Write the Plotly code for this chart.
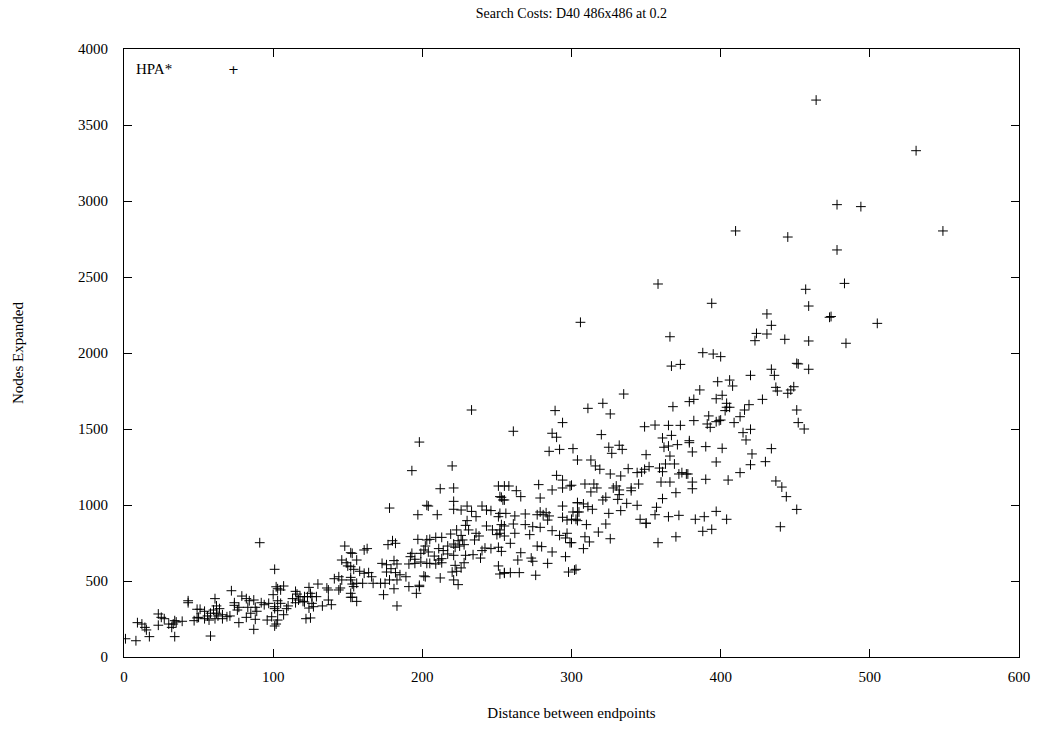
import plotly.graph_objects as go

title_text = "Search Costs: D40 486x486 at 0.2"
x_title = "Distance between endpoints"
y_title = "Nodes Expanded"
series_name = "HPA*"

x_ticks = [0, 100, 200, 300, 400, 500, 600]
y_ticks = [0, 500, 1000, 1500, 2000, 2500, 3000, 3500, 4000]

# (distance, nodes expanded)
distance = [
    # upper outliers
    464, 531, 478, 494, 549, 478, 483, 457, 459, 473, 474, 505, 459, 484, 452, 459,
    410, 445, 358, 394, 306, 366, 388, 395, 400, 367, 373,
    431, 434, 424, 431, 423, 443, 451, 434, 436, 420, 406, 408, 437, 438, 449, 447, 445,
    401, 428, 419, 404, 404, 406, 416, 403, 413, 451, 400, 409, 452, 420, 415, 417, 401,
    434, 421, 420, 430, 413, 405, 437, 441, 444, 451, 404, 440, 456,
    # 350-400
    398, 386, 397, 379, 382, 368, 392, 382, 399, 397, 391, 393, 349, 356, 365, 373,
    361, 367, 379, 379, 362, 365, 371, 390, 381, 350, 366, 369, 363, 397, 352, 359, 361,
    349, 372, 374, 377, 378, 390, 360, 366, 381, 381, 370, 361, 357, 356, 365, 372, 383,
    389, 397, 388, 394, 370, 358, 350,
    # 300-350
    335, 321, 311, 326, 320, 325, 332, 327, 334, 301, 304, 313, 316, 319, 326, 333,
    338, 344, 347, 300, 309, 315, 317, 313, 328, 330, 332, 332, 340, 340, 345, 323, 321,
    331, 337, 344, 304, 308, 311, 314, 301, 304, 325, 333, 346, 350, 304, 310, 323, 318,
    309, 312, 326, 308, 300, 302,
    # 250-300
    289, 294, 261, 287, 290, 285, 292, 290, 294, 278, 255, 258, 263, 266, 287, 294, 299,
    252, 254, 279, 294, 304, 252, 256, 262, 269, 277, 279, 281, 283, 285, 284, 294, 297,
    300, 305, 303, 253, 261, 269, 274, 279, 252, 255, 262, 272, 287, 292, 297, 296, 259,
    277, 280, 299, 287, 266, 264, 273, 274, 296, 284, 252, 255, 259, 265, 276, 298, 303,
    # 200-250
    220, 212, 221, 204, 210, 221, 221, 226, 230, 233, 236, 240, 243, 246, 251, 253, 255,
    251, 230, 205, 209, 213, 219, 223, 229, 231, 226, 227, 228, 225, 224, 222, 221, 236,
    238, 235, 243, 247, 250, 252, 255, 246, 251, 253, 240, 242, 211, 214, 217, 202, 204,
    208, 211, 213, 213, 217, 221, 229, 228, 222, 226, 223, 234, 239, 205, 209, 202, 212,
    220, 221, 224, 251, 255, 233,
    # 150-200
    198, 193, 178, 203, 197, 180, 182, 177, 161, 163, 197, 203, 201, 199, 193, 192, 195,
    191, 195, 199, 203, 201, 198, 196, 153, 156, 152, 173, 176, 181, 183, 179, 176, 182,
    185, 178, 183, 181, 174, 183, 189, 191, 198, 158, 161, 164, 166, 160, 156, 152, 167,
    154, 152, 156, 153, 175, 172,
    # 100-150
    148, 152, 146, 149, 150, 154, 141, 144, 146, 145, 130, 136, 137, 152, 153, 152, 144,
    124, 125, 123, 126, 121, 129, 127, 124, 126, 125, 122, 133, 139, 137, 115, 116, 118,
    113, 115, 117, 120, 121, 107, 105, 102, 103, 105, 101, 103, 109, 110, 107, 102,
    # 50-100
    91, 101, 72, 79, 82, 84, 87, 88, 92, 94, 97, 100, 103, 101, 61, 62, 60, 64, 62,
    74, 74, 77, 76, 83, 85, 82, 89, 88, 51, 54, 49, 54, 57, 58, 56, 63, 66, 69, 71, 66,
    61, 77, 87, 58, 96, 99, 103, 101,
    # 0-50
    43, 43, 49, 23, 25, 27, 23, 30, 33, 35, 39, 32, 34, 47, 50, 9, 12, 14, 15, 17, 34, 1, 8,
]

nodes = [
    3664, 3331, 2976, 2963, 2803, 2678, 2458, 2419, 2309, 2235, 2240, 2195, 2079, 2064, 1928, 1893,
    2803, 2763, 2454, 2327, 2202, 2107, 2002, 1993, 1976, 1914, 1925,
    2257, 2182, 2129, 2125, 2081, 2090, 1932, 1893, 1853, 1853, 1822, 1783, 1774, 1750, 1778, 1757, 1735,
    1722, 1695, 1660, 1669, 1643, 1643, 1625, 1621, 1581, 1625, 1559, 1542, 1542, 1498, 1476, 1428, 1373,
    1371, 1336, 1265, 1285, 1213, 1164, 1158, 1118, 1055, 971, 906, 857, 1500,
    1811, 1757, 1699, 1680, 1695, 1647, 1586, 1555, 1555, 1548, 1533, 1511, 1515, 1526, 1524, 1524,
    1441, 1458, 1423, 1410, 1380, 1388, 1397, 1384, 1349, 1331, 1322, 1270, 1270, 1283, 1252, 1243, 1219,
    1235, 1204, 1213, 1204, 1204, 1169, 1151, 1151, 1151, 1107, 1081, 1042, 985, 936, 923, 932, 906,
    923, 958, 827, 840, 791, 752, 880,
    1730, 1669, 1636, 1599, 1463, 1380, 1393, 1340, 1366, 1371, 1296, 1296, 1257, 1235, 1204, 1191,
    1239, 1213, 1217, 1130, 1138, 1138, 1112, 1086, 1112, 1125, 1099, 1068, 1094, 1112, 1138, 1051, 1033,
    1037, 1011, 998, 1015, 1007, 989, 972, 954, 954, 945, 963, 906, 880, 897, 871, 875, 822,
    791, 757, 778, 713, 752, 572,
    1621, 1542, 1485, 1472, 1446, 1353, 1366, 1195, 1164, 1134, 1125, 1125, 1094, 1055, 1099, 1112, 1125,
    1055, 1033, 1046, 993, 1015, 945, 945, 928, 941, 936, 954, 936, 949, 928, 901, 919, 901,
    906, 954, 906, 871, 875, 871, 857, 853, 814, 796, 814, 805, 831, 800, 814, 783, 748,
    730, 726, 752, 691, 686, 638, 651, 630, 660, 616, 546, 555, 555, 555, 538, 559, 577,
    1257, 1107, 1112, 993, 936, 1024, 972, 967, 993, 958, 923, 993, 967, 963, 1125, 1051, 1033,
    923, 897, 774, 787, 787, 809, 836, 866, 836, 800, 770, 739, 730, 765, 722, 743, 814,
    796, 770, 862, 836, 805, 836, 862, 713, 722, 695, 700, 717, 713, 700, 730, 730, 691,
    664, 638, 647, 620, 678, 669, 669, 620, 603, 586, 564, 673, 651, 616, 612, 528, 520,
    559, 507, 476, 599, 551, 1625,
    1414, 1226, 980, 998, 936, 765, 748, 739, 704, 713, 774, 770, 704, 682, 682, 660, 643,
    612, 616, 625, 616, 533, 472, 419, 682, 638, 594, 616, 607, 634, 612, 581, 559, 555,
    541, 507, 507, 449, 410, 336, 528, 463, 463, 564, 551, 555, 528, 485, 485, 507, 485,
    463, 419, 366, 393, 485, 485,
    730, 686, 638, 620, 599, 577, 515, 528, 507, 454, 480, 454, 441, 524, 480, 393, 441,
    458, 419, 397, 397, 397, 397, 331, 322, 353, 257, 252, 336, 344, 375, 432, 414, 397,
    384, 357, 375, 366, 362, 467, 441, 462, 370, 353, 331, 305, 318, 336, 278, 217,
    752, 577, 436, 401, 384, 370, 375, 327, 357, 344, 353, 410, 449, 318, 384, 336, 309, 318, 288,
    357, 340, 327, 309, 327, 288, 261, 301, 248, 314, 301, 257, 252, 243, 288, 270, 270, 278, 265, 270, 252,
    252, 226, 182, 138, 243, 265, 243, 204,
    357, 370, 314, 283, 261, 252, 209, 217, 217, 230, 235, 195, 239, 239, 261, 226, 217, 195, 178, 134, 134, 120, 107,
]

fig = go.Figure()
fig.add_trace(go.Scatter(
    x=distance, y=nodes, mode="markers", name=series_name,
    marker=dict(symbol="cross-thin-open", size=7, color="black",
                line=dict(color="black", width=1)),
    showlegend=False,
))

font_family = "Liberation Serif, Times New Roman, serif"

fig.update_layout(
    width=1043, height=732,
    margin=dict(l=124, r=24, t=49, b=75, autoexpand=False),
    paper_bgcolor="white", plot_bgcolor="white",
    font=dict(family=font_family, size=15, color="black"),
    title=dict(text=title_text, x=0.5479, xanchor="center", y=1 - 13 / 732, yanchor="middle",
               font=dict(family=font_family, size=14, color="black")),
    xaxis=dict(range=[0, 600], tickvals=x_ticks, ticks="inside", ticklen=8,
               showline=True, linecolor="black", linewidth=1, mirror="allticks",
               showgrid=False, zeroline=False, tickcolor="black",
               automargin=False, ticklabelstandoff=6,
               title=dict(text=x_title, standoff=23, font=dict(size=15))),
    yaxis=dict(range=[0, 4000], tickvals=y_ticks, ticks="inside", ticklen=8,
               showline=True, linecolor="black", linewidth=1, mirror="allticks",
               showgrid=False, zeroline=False, tickcolor="black",
               automargin=False, ticklabelstandoff=12,
               title=dict(text=y_title, standoff=50, font=dict(size=15))),
)

fig.add_annotation(xref="paper", yref="paper", x=0.011, y=0.967, xanchor="left",
                   yanchor="middle", text=series_name, showarrow=False,
                   font=dict(family=font_family, size=15, color="black"))
fig.add_annotation(xref="paper", yref="paper", x=0.1218, y=0.967, xanchor="center",
                   yanchor="middle", text="+", showarrow=False,
                   font=dict(family="DejaVu Sans", size=13, color="black"))

fig.write_html(
    "out.html",
    config={"displayModeBar": False},
    post_script="document.body.style.margin='0';document.body.style.overflow='hidden';",
)
